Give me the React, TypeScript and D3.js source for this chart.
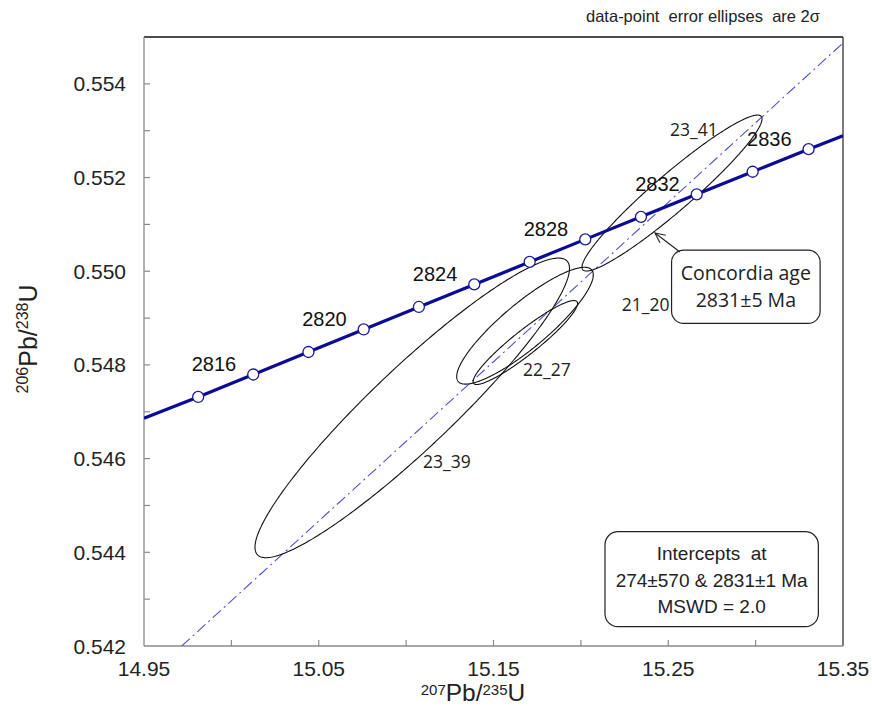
import React from "react";
import * as d3 from "d3";

const W = 872;
const H = 706;
const PL = 144, PR = 843, PT = 37, PB = 646;

// axes
const xDomain = [14.95, 15.35];
const yDomain = [0.542, 0.555];
const xTickLabels = [14.95, 15.05, 15.15, 15.25, 15.35];
const xTickMarks = [15.0, 15.05, 15.1, 15.15, 15.2, 15.25, 15.3];
const yTickLabels = [0.542, 0.544, 0.546, 0.548, 0.55, 0.552, 0.554];
const yTickMarks = [0.543, 0.544, 0.545, 0.546, 0.547, 0.548, 0.549, 0.55, 0.551, 0.552, 0.553, 0.554];

// concordia
const concordiaAges = [2814, 2816, 2818, 2820, 2822, 2824, 2826, 2828, 2830, 2832, 2834, 2836];
const concordiaX = [14.981, 15.0125, 15.0441, 15.0757, 15.1073, 15.139, 15.1707, 15.2025, 15.2344, 15.2663, 15.2983, 15.3303];
const concordiaY = [0.547316, 0.547796, 0.548276, 0.548757, 0.549237, 0.549718, 0.550199, 0.55068, 0.551161, 0.551642, 0.552124, 0.552606];
const concordiaLabelAges = [2816, 2820, 2824, 2828, 2832, 2836];
const curveEndX = [14.95, 15.35];
const curveEndY = [0.54686, 0.55289];

// discordia chord
const discordiaX = [14.9716, 15.35];
const discordiaY = [0.542, 0.554871];

// error ellipses (2 sigma): centre, half-extents, correlation
const ellipseNames = ["23_39", "21_20", "22_27", "23_41"];
const ellipseCX = [15.1035, 15.16802, 15.1682, 15.25215];
const ellipseCY = [0.547083, 0.548837, 0.548478, 0.551669];
const ellipseSX = [0.08999, 0.03908, 0.02987, 0.0515];
const ellipseSY = [0.003198, 0.001247, 0.000896, 0.001665];
const ellipseRho = [0.93, 0.87, 0.93, 0.95];
const ellipseLabelX = [15.1097, 15.2234, 15.1669, 15.251];
const ellipseLabelY = [0.545799, 0.54915, 0.547763, 0.552886];

// annotations (data coordinates)
const concBox = { x1: 15.2519, x2: 15.3369, y1: 0.550452, y2: 0.548888 };
const concLines = ["Concordia age", "2831±5 Ma"];
const arrowFrom = [15.2567, 0.55041];
const arrowTo = [15.2424, 0.550815];
const interBox = { x1: 15.2138, x2: 15.3359, y1: 0.54444, y2: 0.542412 };
const interLines = ["Intercepts  at", "274±570 & 2831±1 Ma", "MSWD = 2.0"];
const titleText = "data-point  error ellipses  are 2σ";

export default function App() {
  const x = d3.scaleLinear().domain(xDomain).range([PL, PR]);
  const y = d3.scaleLinear().domain(yDomain).range([PB, PT]);

  const curvePts: [number, number][] = [
    [curveEndX[0], curveEndY[0]],
    ...concordiaX.map((v, i) => [v, concordiaY[i]] as [number, number]),
    [curveEndX[1], curveEndY[1]],
  ];
  const line = d3.line<[number, number]>().x((d) => x(d[0])).y((d) => y(d[1]));

  const ellipsePath = (i: number) => {
    const pts: [number, number][] = d3.range(0, 360, 1).map((deg) => {
      const t = (deg * Math.PI) / 180;
      const r = ellipseRho[i];
      return [
        ellipseCX[i] + ellipseSX[i] * Math.cos(t),
        ellipseCY[i] + ellipseSY[i] * (r * Math.cos(t) + Math.sqrt(1 - r * r) * Math.sin(t)),
      ];
    });
    return d3.line<[number, number]>().x((d) => x(d[0])).y((d) => y(d[1])).curve(d3.curveLinearClosed)(pts) || "";
  };

  const arial = "'Liberation Sans', Arial, sans-serif";
  const calib = "'Open Sans', 'Noto Sans', sans-serif";
  const pre = { whiteSpace: "pre" as const };

  const ax0 = x(arrowFrom[0]), ay0 = y(arrowFrom[1]);
  const ax1 = x(arrowTo[0]), ay1 = y(arrowTo[1]);
  const ang = Math.atan2(ay1 - ay0, ax1 - ax0);
  const ah = 11, aw = 0.45;
  const headA = [ax1 - ah * Math.cos(ang - aw), ay1 - ah * Math.sin(ang - aw)];
  const headB = [ax1 - ah * Math.cos(ang + aw), ay1 - ah * Math.sin(ang + aw)];

  return (
    <svg width={W} height={H} style={{ position: "absolute", left: 0, top: 0, background: "#fff" }}>
      <defs>
        <clipPath id="plot">
          <rect x={PL} y={PT} width={PR - PL} height={PB - PT} />
        </clipPath>
      </defs>
      <rect x={0} y={0} width={W} height={H} fill="#fff" />

      {/* title */}
      <text x={703} y={22} textAnchor="middle" fontFamily={arial} fontSize={16.5} fill="#222" style={pre}>
        {titleText}
      </text>

      {/* frame */}
      <line x1={PL} y1={PT} x2={PR} y2={PT} stroke="#111" strokeWidth={1.3} />
      <line x1={PR} y1={PT} x2={PR} y2={PB} stroke="#333" strokeWidth={1.3} />
      <line x1={PL} y1={PT} x2={PL} y2={PB} stroke="#8a8a8a" strokeWidth={1.3} />
      <line x1={PL} y1={PB} x2={PR} y2={PB} stroke="#8a8a8a" strokeWidth={1.3} />

      {yTickMarks.map((v) => (
        <line key={"yt" + v} x1={PL} x2={PL + 6} y1={y(v)} y2={y(v)} stroke="#8a8a8a" strokeWidth={1.2} />
      ))}
      {xTickMarks.map((v) => (
        <line key={"xt" + v} x1={x(v)} x2={x(v)} y1={PB} y2={PB - 6} stroke="#8a8a8a" strokeWidth={1.2} />
      ))}
      {yTickLabels.map((v) => (
        <text key={"yl" + v} x={PL - 18} y={y(v) + 7.5} textAnchor="end" fontFamily={arial} fontSize={21} fill="#222">
          {d3.format(".3f")(v)}
        </text>
      ))}
      {xTickLabels.map((v) => (
        <text key={"xl" + v} x={x(v)} y={676} textAnchor="middle" fontFamily={arial} fontSize={21} fill="#222">
          {d3.format(".2f")(v)}
        </text>
      ))}

      {/* axis titles */}
      <text x={473} y={701} textAnchor="middle" fontFamily={arial} fill="#222">
        <tspan fontSize={15} dy={-6}>207</tspan>
        <tspan fontSize={24.5} dy={6}>Pb/</tspan>
        <tspan fontSize={15} dy={-6}>235</tspan>
        <tspan fontSize={24.5} dy={6}>U</tspan>
      </text>
      <text transform="translate(37,339) rotate(-90)" textAnchor="middle" fontFamily={arial} fill="#222">
        <tspan fontSize={16} dy={-9}>206</tspan>
        <tspan fontSize={25} dy={9}>Pb/</tspan>
        <tspan fontSize={16} dy={-9}>238</tspan>
        <tspan fontSize={25} dy={9}>U</tspan>
      </text>

      <g clipPath="url(#plot)">
        {/* discordia */}
        <line
          x1={x(discordiaX[0])}
          y1={y(discordiaY[0])}
          x2={x(discordiaX[1])}
          y2={y(discordiaY[1])}
          stroke="#5050cc"
          strokeWidth={1.1}
          strokeDasharray="11,4,2,4"
        />
        {/* ellipses */}
        {ellipseNames.map((n, i) => (
          <path key={n} d={ellipsePath(i)} fill="none" stroke="#111" strokeWidth={1.1} />
        ))}
        {/* concordia */}
        <path d={line(curvePts) || ""} fill="none" stroke="#0b0b96" strokeWidth={3.2} />
        {concordiaAges.map((a, i) => (
          <circle key={a} cx={x(concordiaX[i])} cy={y(concordiaY[i])} r={5.5} fill="#fff" stroke="#1a1a9a" strokeWidth={1.3} />
        ))}
      </g>

      {concordiaAges.map((a, i) =>
        concordiaLabelAges.includes(a) ? (
          <text
            key={"cl" + a}
            x={x(concordiaX[i]) - 17}
            y={y(concordiaY[i]) - 3.5}
            textAnchor="end"
            fontFamily={arial}
            fontSize={20}
            fill="#111"
          >
            {a}
          </text>
        ) : null
      )}

      {ellipseNames.map((n, i) => (
        <text key={"el" + n} x={x(ellipseLabelX[i])} y={y(ellipseLabelY[i])} fontFamily={calib} fontSize={17.5} fill="#222">
          {n}
        </text>
      ))}

      {/* concordia age box */}
      <rect
        x={x(concBox.x1)}
        y={y(concBox.y1)}
        width={x(concBox.x2) - x(concBox.x1)}
        height={y(concBox.y2) - y(concBox.y1)}
        rx={12}
        fill="#fff"
        stroke="#222"
        strokeWidth={1.2}
      />
      {concLines.map((t, k) => (
        <text
          key={t}
          x={(x(concBox.x1) + x(concBox.x2)) / 2}
          y={y(concBox.y1) + 30 + k * 27}
          textAnchor="middle"
          fontFamily={calib}
          fontSize={19.5}
          fill="#222"
        >
          {t}
        </text>
      ))}
      <line x1={ax0} y1={ay0} x2={ax1} y2={ay1} stroke="#222" strokeWidth={1.1} />
      <polyline
        points={`${headA[0]},${headA[1]} ${ax1},${ay1} ${headB[0]},${headB[1]}`}
        fill="none"
        stroke="#222"
        strokeWidth={1.1}
      />

      {/* intercepts box */}
      <rect
        x={x(interBox.x1)}
        y={y(interBox.y1)}
        width={x(interBox.x2) - x(interBox.x1)}
        height={y(interBox.y2) - y(interBox.y1)}
        rx={13}
        fill="#fff"
        stroke="#222"
        strokeWidth={1.2}
      />
      {interLines.map((t, k) => (
        <text
          key={t}
          x={(x(interBox.x1) + x(interBox.x2)) / 2}
          y={y(interBox.y1) + 28.5 + k * 26.5}
          textAnchor="middle"
          fontFamily={arial}
          fontSize={19}
          fill="#222"
          style={pre}
        >
          {t}
        </text>
      ))}
    </svg>
  );
}
